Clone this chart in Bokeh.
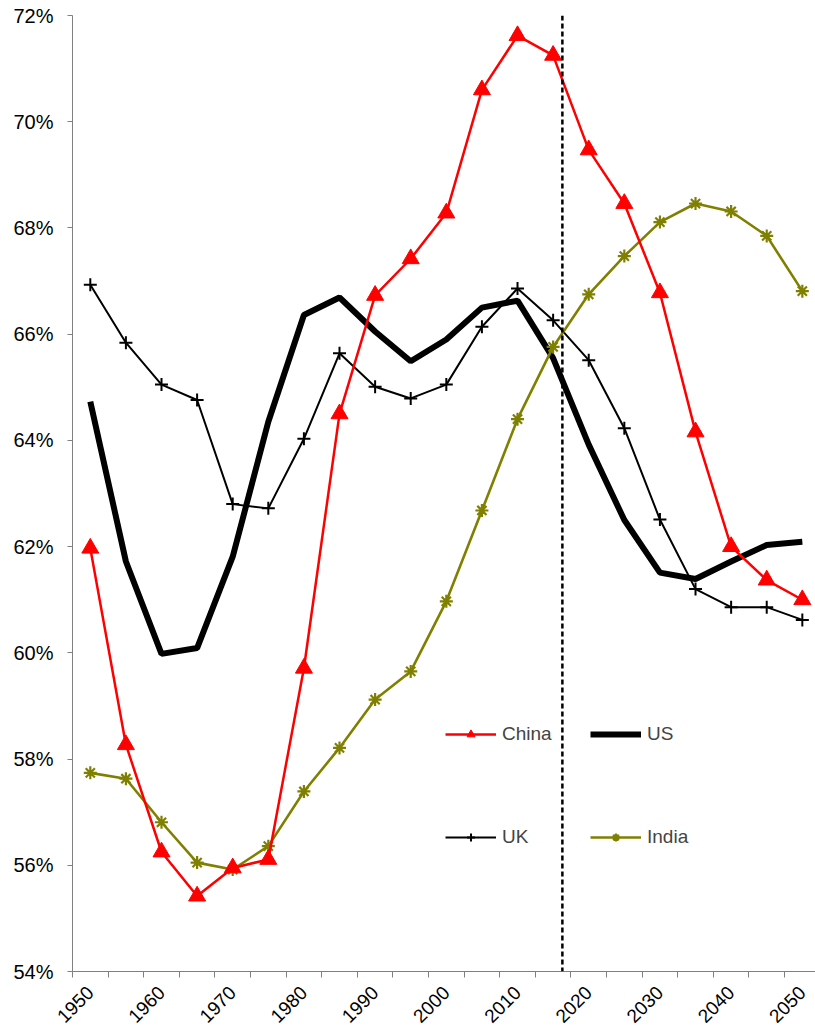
import math
from bokeh.plotting import figure
from bokeh.models import FixedTicker, PrintfTickFormatter, Span, Legend, LegendItem, Range1d
from bokeh.embed import file_html
from bokeh.resources import INLINE

years = [1950, 1955, 1960, 1965, 1970, 1975, 1980, 1985, 1990, 1995, 2000,
         2005, 2010, 2015, 2020, 2025, 2030, 2035, 2040, 2045, 2050]
china = [61.97, 58.27, 56.25, 55.42, 55.95, 56.11, 59.71, 64.50, 66.73, 67.42, 68.28,
         70.60, 71.62, 71.25, 69.47, 68.46, 66.78, 64.16, 62.00, 61.37, 61.00]
us = [64.73, 61.72, 59.98, 60.09, 61.81, 64.35, 66.36, 66.69, 66.05, 65.49, 65.90,
      66.50, 66.63, 65.55, 63.92, 62.50, 61.51, 61.39, 61.72, 62.03, 62.09]
uk = [66.93, 65.84, 65.05, 64.76, 62.80, 62.72, 64.03, 65.64, 65.01, 64.79, 65.05,
      66.14, 66.86, 66.26, 65.51, 64.23, 62.51, 61.20, 60.86, 60.86, 60.62]
india = [57.74, 57.63, 56.81, 56.05, 55.92, 56.36, 57.39, 58.21, 59.12, 59.65, 60.97,
         62.68, 64.40, 65.76, 66.75, 67.47, 68.11, 68.46, 68.31, 67.85, 66.81]
label_years = [1950, 1960, 1970, 1980, 1990, 2000, 2010, 2020, 2030, 2040, 2050]
y_ticks = [54, 56, 58, 60, 62, 64, 66, 68, 70, 72]
divider_year = 2016.3

FONT = "Liberation Sans"
AXIS = "#808080"

p = figure(width=815, height=1031, output_backend="svg", toolbar_location=None,
           x_range=Range1d(1947.5, 2051.85), y_range=Range1d(54, 72),
           min_border_left=72, min_border_right=0, min_border_top=15, min_border_bottom=59)
p.background_fill_color = "white"
p.border_fill_color = "white"
p.outline_line_color = None
p.xgrid.visible = False
p.ygrid.visible = False

boundaries = [y - 2.5 for y in years] + [years[-1] + 2.5]
p.xaxis.ticker = FixedTicker(ticks=label_years, minor_ticks=boundaries)
p.xaxis.major_tick_line_color = None
p.xaxis.major_tick_out = 0
p.xaxis.major_tick_in = 0
p.xaxis.minor_tick_out = 6
p.xaxis.minor_tick_in = 0
p.xaxis.minor_tick_line_color = AXIS
p.xaxis.axis_line_color = AXIS
p.xaxis.major_label_orientation = math.pi / 4
p.xaxis.major_label_text_font = FONT
p.xaxis.major_label_text_font_size = "19px"
p.xaxis.major_label_text_color = "black"
p.xaxis.major_label_standoff = 12

p.yaxis.ticker = FixedTicker(ticks=y_ticks, minor_ticks=[])
p.yaxis.formatter = PrintfTickFormatter(format="%d%%")
p.yaxis.major_tick_out = 5
p.yaxis.major_tick_in = 0
p.yaxis.minor_tick_line_color = None
p.yaxis.major_tick_line_color = AXIS
p.yaxis.axis_line_color = AXIS
p.yaxis.major_label_text_font = FONT
p.yaxis.major_label_text_font_size = "20px"
p.yaxis.major_label_text_color = "black"
p.yaxis.major_label_standoff = 14

p.add_layout(Span(location=divider_year, dimension="height", line_color="black",
                  line_width=2.5, line_dash="5 3"))

us_l = p.line(years, us, line_color="black", line_width=6)
uk_l = p.line(years, uk, line_color="black", line_width=2)
uk_s = p.scatter(years, uk, marker="cross", size=13, line_color="black", line_width=2)
in_l = p.line(years, india, line_color="#808000", line_width=2.6)
in_s = p.scatter(years, india, marker="asterisk", size=13, line_color="#808000", line_width=2.2)
ch_l = p.line(years, china, line_color="#FF0000", line_width=2.5)
ch_s = p.scatter(years, china, marker="triangle", size=17, fill_color="#FF0000",
                 line_color="#FF0000")

common = dict(orientation="vertical", spacing=81, glyph_width=51, glyph_height=20,
              label_height=20, label_standoff=6, padding=0, margin=0,
              border_line_color=None, background_fill_alpha=0,
              label_text_font=FONT, label_text_font_size="19px")
leg1 = Legend(items=[LegendItem(label="China", renderers=[ch_l, ch_s]),
                     LegendItem(label="UK", renderers=[uk_l, uk_s])],
              location=(373, 123), **common)
leg2 = Legend(items=[LegendItem(label="US", renderers=[us_l]),
                     LegendItem(label="India", renderers=[in_l, in_s])],
              location=(518, 123), **common)
p.add_layout(leg1)
p.add_layout(leg2)

open("out.html", "w").write(file_html(p, INLINE))
